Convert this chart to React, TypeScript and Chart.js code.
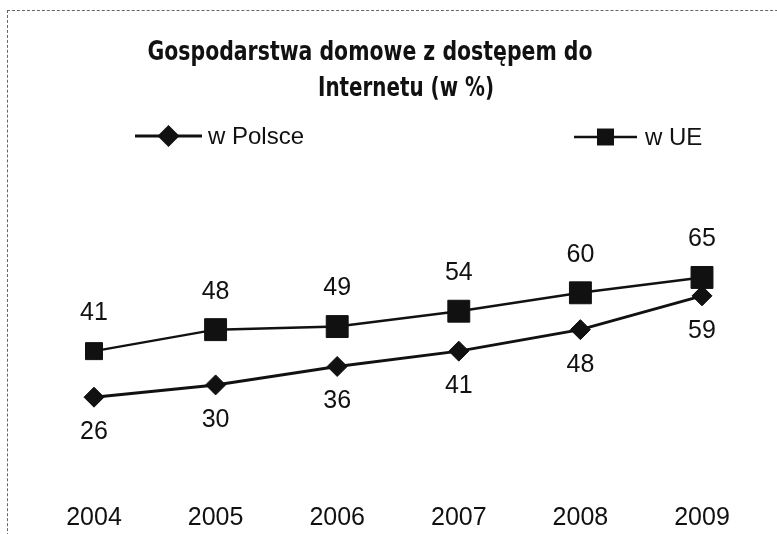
import { useEffect, useRef } from 'react';
import { Chart, registerables } from 'chart.js';

Chart.register(...registerables);

const years = ['2004', '2005', '2006', '2007', '2008', '2009'];
const polskaValues = [26, 30, 36, 41, 48, 59];
const ueValues = [41, 48, 49, 54, 60, 65];
const seriesNames = ['w Polsce', 'w UE'];
const titleLines = ['Gospodarstwa domowe z dostępem do', 'Internetu (w %)'];

const INK = '#111111';
const BODY_FONT = '"Liberation Sans", Arial, sans-serif';
const TITLE_FONT = '"DejaVu Sans Condensed", "DejaVu Sans", sans-serif';

function drawMarker(ctx: CanvasRenderingContext2D, style: string, x: number, y: number, r: number) {
  ctx.beginPath();
  if (style === 'rectRot') {
    ctx.moveTo(x, y - r);
    ctx.lineTo(x + r, y);
    ctx.lineTo(x, y + r);
    ctx.lineTo(x - r, y);
    ctx.closePath();
  } else {
    const s = r * Math.SQRT1_2;
    ctx.rect(x - s, y - s, 2 * s, 2 * s);
  }
  ctx.fill();
}

const titlePlugin = {
  id: 'twoLineTitle',
  afterDraw(chart: any, _args: any, opts: any) {
    const ctx: CanvasRenderingContext2D = chart.ctx;
    ctx.save();
    ctx.fillStyle = INK;
    ctx.textAlign = 'center';
    ctx.textBaseline = 'alphabetic';
    ctx.font = `bold ${opts.size}px ${TITLE_FONT}`;
    opts.lines.forEach((line: any) => {
      ctx.fillText(line.text, line.x, line.y, line.maxWidth);
    });
    ctx.restore();
  },
};

const legendPlugin = {
  id: 'lineMarkerLegend',
  afterDraw(chart: any, _args: any, opts: any) {
    const ctx: CanvasRenderingContext2D = chart.ctx;
    ctx.save();
    chart.data.datasets.forEach((ds: any, i: number) => {
      const item = opts.items[i];
      ctx.strokeStyle = ds.borderColor;
      ctx.lineWidth = ds.borderWidth;
      ctx.beginPath();
      ctx.moveTo(item.x0, item.y);
      ctx.lineTo(item.x1, item.y);
      ctx.stroke();
      ctx.fillStyle = ds.pointBackgroundColor;
      drawMarker(ctx, ds.pointStyle, (item.x0 + item.x1) / 2, item.y, item.r);
      ctx.fillStyle = INK;
      ctx.font = `${opts.size}px ${BODY_FONT}`;
      ctx.textAlign = 'left';
      ctx.textBaseline = 'middle';
      ctx.fillText(ds.label, item.textX, item.y + 1);
    });
    ctx.restore();
  },
};

const valueLabelPlugin = {
  id: 'valueLabels',
  afterDatasetsDraw(chart: any, _args: any, opts: any) {
    const ctx: CanvasRenderingContext2D = chart.ctx;
    ctx.save();
    ctx.fillStyle = INK;
    ctx.font = `${opts.size}px ${BODY_FONT}`;
    ctx.textAlign = 'center';
    ctx.textBaseline = 'middle';
    chart.data.datasets.forEach((ds: any, i: number) => {
      const meta = chart.getDatasetMeta(i);
      const off = opts.offsets[i];
      meta.data.forEach((pt: any, j: number) => {
        ctx.fillText(String(ds.data[j]), pt.x, pt.y + off);
      });
    });
    ctx.restore();
  },
};

export default function App() {
  const canvasRef = useRef<HTMLCanvasElement | null>(null);

  useEffect(() => {
    if (!canvasRef.current) return;
    const chart = new Chart(canvasRef.current, {
      type: 'line',
      data: {
        labels: years,
        datasets: [
          {
            label: seriesNames[0],
            data: polskaValues,
            borderColor: INK,
            borderWidth: 3,
            pointStyle: 'rectRot',
            pointRadius: 10,
            pointBackgroundColor: INK,
            pointBorderColor: INK,
            pointBorderWidth: 1,
            tension: 0,
            clip: false,
          },
          {
            label: seriesNames[1],
            data: ueValues,
            borderColor: INK,
            borderWidth: 2.5,
            pointStyle: 'rect',
            pointRadius: [12, 15.5, 15.5, 15.5, 15.5, 15.5],
            pointBackgroundColor: INK,
            pointBorderColor: INK,
            pointBorderWidth: 1,
            tension: 0,
            clip: false,
          },
        ],
      },
      options: {
        responsive: false,
        animation: false,
        layout: { padding: { left: 94, right: 75, top: 170, bottom: 3 } },
        scales: {
          x: {
            grid: { display: false, drawTicks: false },
            border: { display: false },
            ticks: {
              color: INK,
              padding: 26,
              font: { family: BODY_FONT, size: 25 },
              maxRotation: 0,
            },
            afterFit: (scale: any) => {
              scale.height = 54;
            },
          },
          y: {
            display: false,
            min: 0,
            max: 100,
          },
        },
        plugins: {
          legend: { display: false },
          title: { display: false },
          tooltip: { enabled: false },
          twoLineTitle: {
            size: 27,
            lines: [
              { text: titleLines[0], x: 370, y: 60, maxWidth: 445 },
              { text: titleLines[1], x: 406, y: 96, maxWidth: 176 },
            ],
          },
          lineMarkerLegend: {
            size: 24,
            items: [
              { x0: 135, x1: 202, y: 136, r: 11, textX: 208 },
              { x0: 574, x1: 637, y: 137, r: 12, textX: 645 },
            ],
          },
          valueLabels: {
            size: 25,
            offsets: [35, -38],
          },
        } as any,
      },
      plugins: [titlePlugin, legendPlugin, valueLabelPlugin],
    });
    return () => chart.destroy();
  }, []);

  return (
    <div style={{ position: 'absolute', left: 0, top: 0, width: 777, height: 534, background: '#fff', overflow: 'hidden' }}>
      <div
        style={{
          position: 'absolute',
          left: 7,
          top: 10,
          width: 820,
          height: 560,
          borderTop: '1px dashed #666',
          borderLeft: '1px dashed #666',
        }}
      />
      <canvas ref={canvasRef} width={777} height={534} style={{ position: 'absolute', left: 0, top: 0 }} />
    </div>
  );
}
